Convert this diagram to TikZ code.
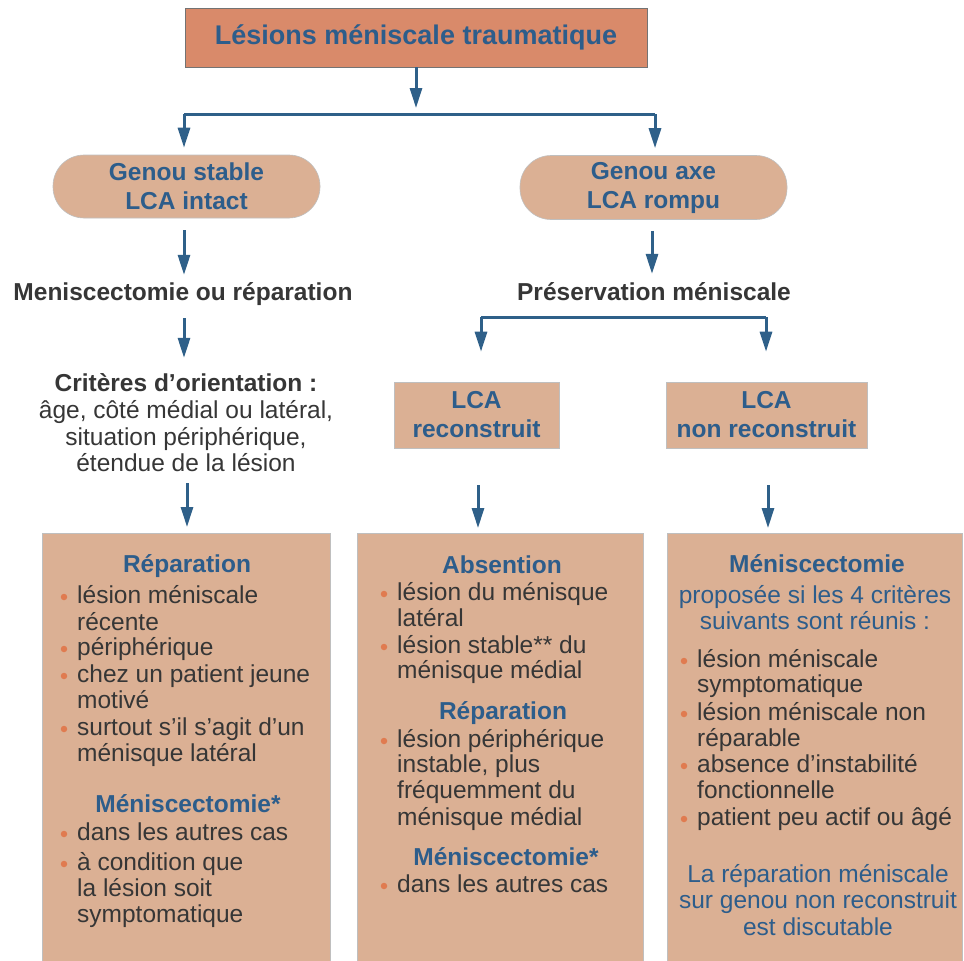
\documentclass[tikz,border=0pt]{standalone}
\usepackage{fontspec}
\setmainfont{Liberation Sans}
\usetikzlibrary{arrows.meta}
\definecolor{tblue}{HTML}{2D5D8B}
\definecolor{tdark}{HTML}{363636}
\definecolor{abl}{HTML}{2F6089}
\definecolor{topfill}{HTML}{D98A6A}
\definecolor{tanfill}{HTML}{DBB094}
\definecolor{bulcol}{HTML}{E07B50}
\newcommand\bline[4]{\node[bdot] (#1d) at (#2-13,#3-6) {};\node[body, anchor=base west] (#1) at (#2,#3) {#4};}
\newcommand\contline[4]{\node[body, anchor=base west] (#1) at (#2,#3) {#4};}
\begin{document}
\begin{tikzpicture}[x=1pt,y=-1pt,
  arr/.style={draw=abl, line width=3pt, -{Triangle[length=20pt,width=12pt]}},
  ln/.style={draw=abl, line width=3pt},
  body/.style={text=tdark, font=\fontsize{24.5}{26.5}\selectfont, inner sep=0pt},
  bodyb/.style={text=tdark, font=\bfseries\fontsize{24.5}{26.5}\selectfont, inner sep=0pt},
  ttl/.style={text=tblue, font=\bfseries\fontsize{24.5}{26.5}\selectfont, inner sep=0pt},
  btxt/.style={text=tblue, font=\fontsize{24.5}{26.5}\selectfont, inner sep=0pt},
  bdot/.style={circle, fill=bulcol, minimum size=6.5pt, inner sep=0pt},
  panel/.style={fill=tanfill, draw=black!25, line width=0.6pt, inner sep=0pt, anchor=north west},
  lbox/.style={fill=tanfill, draw=black!25, line width=0.6pt, inner sep=0pt, align=center, text=tblue, font=\bfseries\fontsize{24.5}{29}\selectfont},
]
\useasboundingbox (0,0) rectangle (964,961);
\fill[white] (0,0) rectangle (964,961);

% top
\node[fill=topfill, draw=black!55, line width=0.8pt, minimum width=462pt, minimum height=59pt, inner sep=0pt,
  text=tblue, font=\bfseries\fontsize{27}{30}\selectfont] (top) at (416,37.5) {Lésions méniscale traumatique};
\coordinate (hL) at (184,114);
\coordinate (hR) at (655,114);
\draw[arr, shorten >=6pt] (top.south) -- (top.south |- hL);
\draw[ln] (hL) -- (hR);

% level 2
\node[lbox, rounded corners=31pt, minimum width=267pt, minimum height=63pt] (gs) at (186.5,186.5) {Genou stable\\LCA intact};
\node[lbox, rounded corners=31pt, minimum width=267pt, minimum height=64pt] (ga) at (653.5,187.5) {Genou axe\\LCA rompu};
\draw[arr, shorten >=7pt] (hL) -- (hL |- gs.north);
\draw[arr, shorten >=7pt] (hR) -- (hR |- ga.north);

% level 3
\node[bodyb, anchor=base] (mr) at (183,300) {Meniscectomie ou réparation};
\node[bodyb, anchor=base] (pm) at (654,300) {Préservation méniscale};
\draw[arr, shorten <=12pt, shorten >=7pt] (gs.south -| hL) -- (hL |- mr.north);
\draw[arr, shorten <=11pt, shorten >=8pt] (ga.south -| 652,0) -- (652,0 |- pm.north);

% criteria
\node[bodyb, anchor=base] (cr1) at (186,391) {Critères d’orientation :};
\node[body, anchor=base] (cr2) at (186,418) {âge, côté médial ou latéral,};
\node[body, anchor=base] (cr3) at (186,445) {situation périphérique,};
\node[body, anchor=base] (cr4) at (186,471) {étendue de la lésion};
\draw[arr, shorten <=13pt, shorten >=15pt] (mr.south -| hL) -- (hL |- cr1.north);

\coordinate (pL) at (481,317);
\coordinate (pR) at (766,317);
\draw[ln] (pL) -- (pR);
\node[lbox, minimum width=165pt, minimum height=66pt] (lr) at (476.5,415) {LCA\\reconstruit};
\node[lbox, minimum width=201pt, minimum height=66pt] (lnr) at (766.5,415) {LCA\\non reconstruit};
\draw[arr, shorten >=30pt] (pL) -- (pL |- lr.north);
\draw[arr, shorten >=30pt] (pR) -- (pR |- lnr.north);

% panels
\node[panel, minimum width=288pt, minimum height=428pt] (pnL) at (42,533) {};
\node[panel, minimum width=286pt, minimum height=428pt] (pnM) at (357,533) {};
\node[panel, minimum width=295pt, minimum height=428pt] (pnR) at (667,533) {};
\draw[arr, shorten <=12pt, shorten >=6pt] (cr4.south -| 187,0) -- (187,0 |- pnL.north);
\draw[arr, shorten <=37pt, shorten >=5pt] (lr.south -| 478,0) -- (478,0 |- pnM.north);
\draw[arr, shorten <=37pt, shorten >=5pt] (lnr.south -| 768,0) -- (768,0 |- pnR.north);

% left panel
\node[ttl, anchor=base] (a0) at (187,572) {Réparation};
\bline{a1}{77}{603}{lésion méniscale}
\contline{a2}{77}{630}{récente}
\bline{a3}{77}{655}{périphérique}
\bline{a4}{77}{682}{chez un patient jeune}
\contline{a5}{77}{708}{motivé}
\bline{a6}{77}{735}{surtout s’il s’agit d’un}
\contline{a7}{77}{761}{ménisque latéral}
\node[ttl, anchor=base] (a8) at (188,812) {Méniscectomie*};
\bline{a9}{77}{840}{dans les autres cas}
\bline{a10}{77}{870}{à condition que}
\contline{a11}{77}{896}{la lésion soit}
\contline{a12}{77}{922}{symptomatique}

% middle panel
\node[ttl, anchor=base] (b0) at (502,573) {Absention};
\bline{b1}{397}{600}{lésion du ménisque}
\contline{b2}{397}{626}{latéral}
\bline{b3}{397}{653}{lésion stable** du}
\contline{b4}{397}{678}{ménisque médial}
\node[ttl, anchor=base] (b5) at (503,719) {Réparation};
\bline{b6}{397}{747}{lésion périphérique}
\contline{b7}{397}{772}{instable, plus}
\contline{b8}{397}{798}{fréquemment du}
\contline{b9}{397}{825}{ménisque médial}
\node[ttl, anchor=base] (b10) at (506,865) {Méniscectomie*};
\bline{b11}{397}{892}{dans les autres cas}

% right panel
\node[ttl, anchor=base] (c0) at (817,572) {Méniscectomie};
\node[btxt, anchor=base] (c1) at (815,603) {proposée si les 4 critères};
\node[btxt, anchor=base] (c2) at (815,629) {suivants sont réunis :};
\bline{c3}{697}{667}{lésion méniscale}
\contline{c4}{697}{692}{symptomatique}
\bline{c5}{697}{720}{lésion méniscale non}
\contline{c6}{697}{746}{réparable}
\bline{c7}{697}{772}{absence d’instabilité}
\contline{c8}{697}{798}{fonctionnelle}
\bline{c9}{697}{825}{patient peu actif ou âgé}
\node[btxt, anchor=base] (c10) at (818,882) {La réparation méniscale};
\node[btxt, anchor=base] (c11) at (818,908) {sur genou non reconstruit};
\node[btxt, anchor=base] (c12) at (818,935) {est discutable};
\end{tikzpicture}
\end{document}
